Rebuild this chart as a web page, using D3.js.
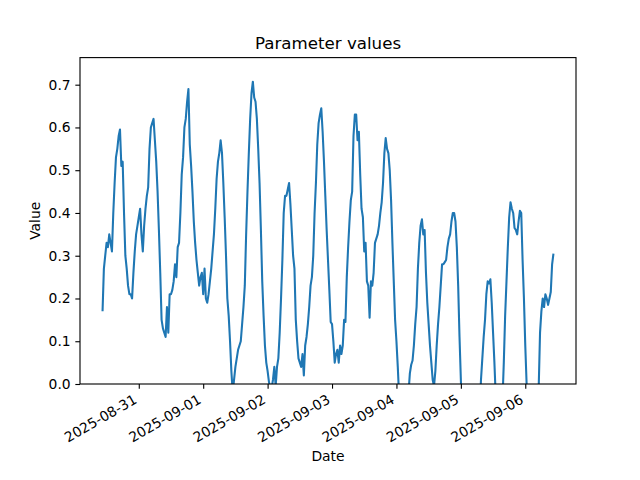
<!DOCTYPE html>
<html>
<head>
<meta charset="utf-8">
<script src="https://cdn.jsdelivr.net/npm/d3@7"></script>
<style>
  html, body { margin: 0; padding: 0; background: #fff; }
  svg { display: block; font-family: "DejaVu Sans", sans-serif; }
</style>
</head>
<body>
<svg id="chart" width="640" height="480"></svg>
<script>
// ---- data (half-hourly readings) ----
const startTime = "2025-08-30T10:30:00Z";
const stepHours = 0.5;
const values = [
  0.17, 0.27, 0.30, 0.33, 0.32, 0.35, 0.33, 0.31, 0.40, 0.47,
  0.53, 0.55, 0.58, 0.595, 0.51, 0.52, 0.40, 0.30, 0.27, 0.23,
  0.21, 0.21, 0.20, 0.26, 0.31, 0.35, 0.37, 0.39, 0.41, 0.35,
  0.31, 0.37, 0.41, 0.44, 0.46, 0.55, 0.60, 0.61, 0.62, 0.57,
  0.52, 0.45, 0.36, 0.26, 0.15, 0.13, 0.12, 0.11, 0.18, 0.12,
  0.21, 0.21, 0.22, 0.24, 0.28, 0.25, 0.32, 0.33, 0.40, 0.49,
  0.53, 0.60, 0.62, 0.66, 0.69, 0.56, 0.51, 0.45, 0.38, 0.33,
  0.29, 0.26, 0.23, 0.25, 0.26, 0.21, 0.27, 0.20, 0.19, 0.21,
  0.24, 0.27, 0.31, 0.35, 0.41, 0.48, 0.52, 0.54, 0.57, 0.54,
  0.47, 0.39, 0.30, 0.20, 0.16, 0.10, 0.03, -0.02, 0.01, 0.04,
  0.06, 0.08, 0.09, 0.10, 0.14, 0.18, 0.23, 0.35, 0.45, 0.54,
  0.62, 0.68, 0.707, 0.67, 0.66, 0.62, 0.55, 0.47, 0.36, 0.24,
  0.16, 0.09, 0.05, 0.03, 0.005, -0.01, -0.01, 0.01, 0.04, -0.005,
  0.04, 0.06, 0.12, 0.20, 0.29, 0.40, 0.44, 0.44, 0.455, 0.47,
  0.42, 0.36, 0.30, 0.27, 0.15, 0.10, 0.06, 0.05, 0.04, 0.07,
  0.02, 0.09, 0.11, 0.14, 0.18, 0.23, 0.25, 0.30, 0.40, 0.47,
  0.56, 0.61, 0.63, 0.645, 0.59, 0.52, 0.44, 0.36, 0.29, 0.22,
  0.145, 0.14, 0.10, 0.05, 0.07, 0.08, 0.05, 0.09, 0.07, 0.09,
  0.15, 0.145, 0.25, 0.32, 0.38, 0.43, 0.45, 0.58, 0.63, 0.63,
  0.57, 0.59, 0.49, 0.41, 0.39, 0.31, 0.33, 0.24, 0.23, 0.155,
  0.24, 0.23, 0.26, 0.33, 0.34, 0.35, 0.37, 0.40, 0.425, 0.47,
  0.54, 0.575, 0.55, 0.54, 0.50, 0.43, 0.33, 0.24, 0.15, 0.10,
  0.04, -0.03, -0.07, -0.10, -0.12, -0.12, -0.10, -0.07, -0.02, 0.025,
  0.045, 0.055, 0.09, 0.14, 0.18, 0.27, 0.33, 0.37, 0.385, 0.35,
  0.36, 0.26, 0.19, 0.14, 0.09, 0.05, 0.01, -0.005, 0.03, 0.09,
  0.14, 0.18, 0.23, 0.28, 0.28, 0.285, 0.29, 0.32, 0.34, 0.35,
  0.38, 0.40, 0.40, 0.38, 0.32, 0.23, 0.11, 0.01, -0.08, -0.16,
  -0.23, -0.29, -0.34, -0.38, -0.41, -0.42, -0.41, -0.38, -0.33, -0.25,
  -0.16, -0.07, 0.01, 0.06, 0.11, 0.15, 0.21, 0.24, 0.235, 0.245,
  0.19, 0.12, 0.05, -0.03, -0.09, -0.13, -0.13, -0.10, -0.04, 0.05,
  0.16, 0.24, 0.32, 0.39, 0.425, 0.41, 0.40, 0.365, 0.36, 0.35,
  0.38, 0.405, 0.40, 0.29, 0.20, 0.09, 0.00, -0.08, -0.15, -0.21,
  -0.25, -0.27, -0.27, -0.24, -0.16, -0.01, 0.12, 0.17, 0.20, 0.18,
  0.21, 0.20, 0.185, 0.20, 0.215, 0.28, 0.305
];
const xTickDates = ["2025-08-31", "2025-09-01", "2025-09-02", "2025-09-03", "2025-09-04", "2025-09-05", "2025-09-06"];
const yTicks = [0.0, 0.1, 0.2, 0.3, 0.4, 0.5, 0.6, 0.7];
const titleText = "Parameter values";
const xLabelText = "Date";
const yLabelText = "Value";

(function () {
  // ---- layout ----
  const mL = 80, mR = 576, mT = 57.6, mB = 384;
  const tickLen = 4.67, tickPad = 4.67;
  const fs = 13.89;

  const t0 = new Date(startTime).getTime();
  const series = values.map((v, i) => ({ t: new Date(t0 + i * stepHours * 3600e3), v }));

  const svg = d3.select("#chart");

  // x scale with matplotlib-like 5% margins
  const tExt = d3.extent(series, d => d.t.getTime());
  const tPad = (tExt[1] - tExt[0]) * 0.05;
  const x = d3.scaleUtc()
    .domain([new Date(tExt[0] - tPad), new Date(tExt[1] + tPad)])
    .range([mL, mR]);

  const vExt = d3.extent(values);
  const yTop = vExt[1] + (vExt[1] - vExt[0]) * 0.05;
  const y = d3.scaleLinear().domain([0, yTop]).range([mB, mT]);

  svg.append("defs").append("clipPath").attr("id", "clip")
    .append("rect").attr("x", mL).attr("y", mT)
    .attr("width", mR - mL).attr("height", mB - mT);

  // line
  const line = d3.line().x(d => x(d.t)).y(d => y(d.v));
  svg.append("path")
    .datum(series)
    .attr("clip-path", "url(#clip)")
    .attr("fill", "none")
    .attr("stroke", "#1f77b4")
    .attr("stroke-width", 2.08)
    .attr("stroke-linejoin", "round")
    .attr("stroke-linecap", "butt")
    .attr("d", line);

  // spines
  svg.append("rect")
    .attr("x", mL).attr("y", mT)
    .attr("width", mR - mL).attr("height", mB - mT)
    .attr("fill", "none").attr("stroke", "#000").attr("stroke-width", 1.11);

  // x axis ticks
  const parseDay = d3.utcParse("%Y-%m-%d");
  const fmtDay = d3.utcFormat("%Y-%m-%d");
  const xTicks = xTickDates.map(parseDay);
  const xAxis = d3.axisBottom(x).tickValues(xTicks).tickFormat(fmtDay)
    .tickSize(tickLen).tickPadding(tickPad);
  const gx = svg.append("g").attr("transform", `translate(0,${mB})`).call(xAxis);
  gx.select(".domain").remove();
  gx.selectAll(".tick line").attr("stroke", "#000").attr("stroke-width", 1.11);
  gx.selectAll(".tick text")
    .attr("fill", "#000")
    .attr("font-size", fs)
    .attr("font-family", "DejaVu Sans")
    .attr("text-anchor", "end")
    .attr("dy", null)
    .attr("y", null)
    .attr("transform", "translate(-1.45,18.4) rotate(-30)");

  // y axis
  const yAxis = d3.axisLeft(y).tickValues(yTicks).tickFormat(d3.format(".1f"))
    .tickSize(tickLen).tickPadding(tickPad);
  const gy = svg.append("g").attr("transform", `translate(${mL},0)`).call(yAxis);
  gy.select(".domain").remove();
  gy.selectAll(".tick line").attr("stroke", "#000").attr("stroke-width", 1.11);
  gy.selectAll(".tick text")
    .attr("fill", "#000")
    .attr("font-size", fs)
    .attr("font-family", "DejaVu Sans");

  // title and labels
  svg.append("text")
    .attr("x", (mL + mR) / 2).attr("y", 49.3)
    .attr("text-anchor", "middle")
    .attr("font-size", 16.67)
    .attr("fill", "#000")
    .text(titleText);

  svg.append("text")
    .attr("x", (mL + mR) / 2).attr("y", 461.4)
    .attr("text-anchor", "middle")
    .attr("font-size", fs)
    .attr("fill", "#000")
    .text(xLabelText);

  svg.append("text")
    .attr("transform", `translate(40.1,${(mT + mB) / 2}) rotate(-90)`)
    .attr("text-anchor", "middle")
    .attr("font-size", fs)
    .attr("fill", "#000")
    .text(yLabelText);
})();
</script>
</body>
</html>
